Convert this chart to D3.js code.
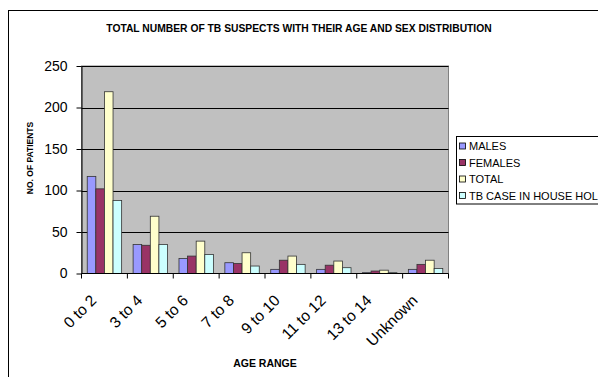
<!DOCTYPE html>
<html><head><meta charset="utf-8">
<script src="https://cdn.jsdelivr.net/npm/d3@7"></script>
<style>
html,body{margin:0;padding:0;background:#fff;}
svg{display:block;font-family:Arial,"Liberation Sans",sans-serif;}
</style></head>
<body>
<svg id="chart" width="598" height="377"></svg>
<script>
const categories = ["0 to 2","3 to 4","5 to 6","7 to 8","9 to 10","11 to 12","13 to 14","Unknown"];
const males = [117,35,18,13,5,5,1,5];
const females = [102,34,21,12,16,10,3,11];
const totals = [219,69,39,25,21,15,4,16];
const tbHousehold = [88,35,23,9,11,7,1,6];
const seriesNames = ["MALES","FEMALES","TOTAL","TB CASE IN HOUSE HOLD"];
const seriesColors = ["#9999FF","#993366","#FFFFCC","#CCFFFF"];
const yTicks = [0,50,100,150,200,250];
const chartTitle = "TOTAL NUMBER OF TB SUSPECTS WITH THEIR AGE AND SEX DISTRIBUTION";
const xTitle = "AGE RANGE";
const yTitle = "NO. OF PATIENTS";

(function(){
const seriesValues = [males,females,totals,tbHousehold];
const svg = d3.select("#chart");
const FONT = "Arial, 'Liberation Sans', sans-serif";

// chart area frame
svg.append("rect").attr("x",8.5).attr("y",10.5).attr("width",640).attr("height",400)
  .attr("fill","#fff").attr("stroke","#000").attr("stroke-width",1);

const pLeft=81.5, pRight=448.5, pTop=66, pBottom=273.5;
const y = d3.scaleLinear().domain([0,250]).range([pBottom,pTop]);
const x = d3.scaleBand().domain(categories).range([pLeft,pRight]).padding(0);
const bw = x.bandwidth();
const inner = d3.scaleBand().domain(seriesNames).range([bw*0.125,bw*0.875]).padding(0);

// plot area
svg.append("rect").attr("x",pLeft).attr("y",pTop).attr("width",pRight-pLeft).attr("height",pBottom-pTop)
  .attr("fill","#C0C0C0").attr("stroke","#808080").attr("stroke-width",1);

// gridlines
svg.append("g").selectAll("line").data(yTicks.filter(d=>d>0)).join("line")
  .attr("x1",pLeft).attr("x2",pRight).attr("y1",d=>Math.round(y(d))+0.5).attr("y2",d=>Math.round(y(d))+0.5)
  .attr("stroke","#000").attr("stroke-width",1);

// bars
seriesNames.forEach((s,i)=>{
  svg.append("g").selectAll("rect").data(categories).join("rect")
    .attr("x",c=>x(c)+inner(s))
    .attr("y",(c,j)=>y(seriesValues[i][j]))
    .attr("width",inner.bandwidth())
    .attr("height",(c,j)=>pBottom-y(seriesValues[i][j]))
    .attr("fill",seriesColors[i])
    .attr("stroke","#333").attr("stroke-width",0.8);
});

// y axis
const yAxis = svg.append("g").attr("transform",`translate(${pLeft},0)`)
  .call(d3.axisLeft(y).tickValues(yTicks).tickSize(5).tickPadding(9).tickSizeOuter(0));
yAxis.select(".domain").attr("stroke","#000");
yAxis.selectAll("line").attr("stroke","#000");
yAxis.selectAll("text").attr("font-size","14px").attr("fill","#000").attr("font-family",FONT);

// x axis line and boundary ticks
svg.append("line").attr("x1",pLeft).attr("x2",pRight).attr("y1",pBottom).attr("y2",pBottom).attr("stroke","#000");
const bounds = categories.map(c=>x(c)).concat([pRight]);
svg.append("g").selectAll("line").data(bounds).join("line")
  .attr("x1",d=>d).attr("x2",d=>d).attr("y1",pBottom).attr("y2",pBottom+5).attr("stroke","#000");

// x labels
const xAxis = svg.append("g").attr("transform",`translate(0,${pBottom})`)
  .call(d3.axisBottom(x).tickSize(0).tickPadding(0));
xAxis.select(".domain").remove();
xAxis.selectAll("text")
  .attr("font-size","15.5px").attr("fill","#000").attr("font-family",FONT)
  .attr("text-anchor","end").attr("dy",0).attr("y",0)
  .attr("transform","translate(-7,28) rotate(-45)");

// titles
svg.append("text").attr("x",299).attr("y",32).attr("text-anchor","middle")
  .attr("font-size","10.3px").attr("font-weight","bold").text(chartTitle);
svg.append("text").attr("x",(pLeft+pRight)/2).attr("y",367).attr("text-anchor","middle")
  .attr("font-size","10.5px").attr("font-weight","bold").text(xTitle);
svg.append("text").attr("transform",`translate(33,158) rotate(-90)`).attr("text-anchor","middle")
  .attr("font-size","8.5px").attr("font-weight","bold").text(yTitle);

// legend
const lg = svg.append("g");
lg.append("rect").attr("x",456.5).attr("y",136.5).attr("width",200).attr("height",67.5)
  .attr("fill","#fff").attr("stroke","#000").attr("stroke-width",1);
seriesNames.forEach((s,i)=>{
  const cy = 146 + i*16.5;
  lg.append("rect").attr("x",459.5).attr("y",cy-3).attr("width",6).attr("height",6)
    .attr("fill",seriesColors[i]).attr("stroke","#000").attr("stroke-width",0.8);
  lg.append("text").attr("x",469).attr("y",cy+4).attr("font-size","11px").attr("fill","#000").text(s);
});
})();
</script>
</body></html>
